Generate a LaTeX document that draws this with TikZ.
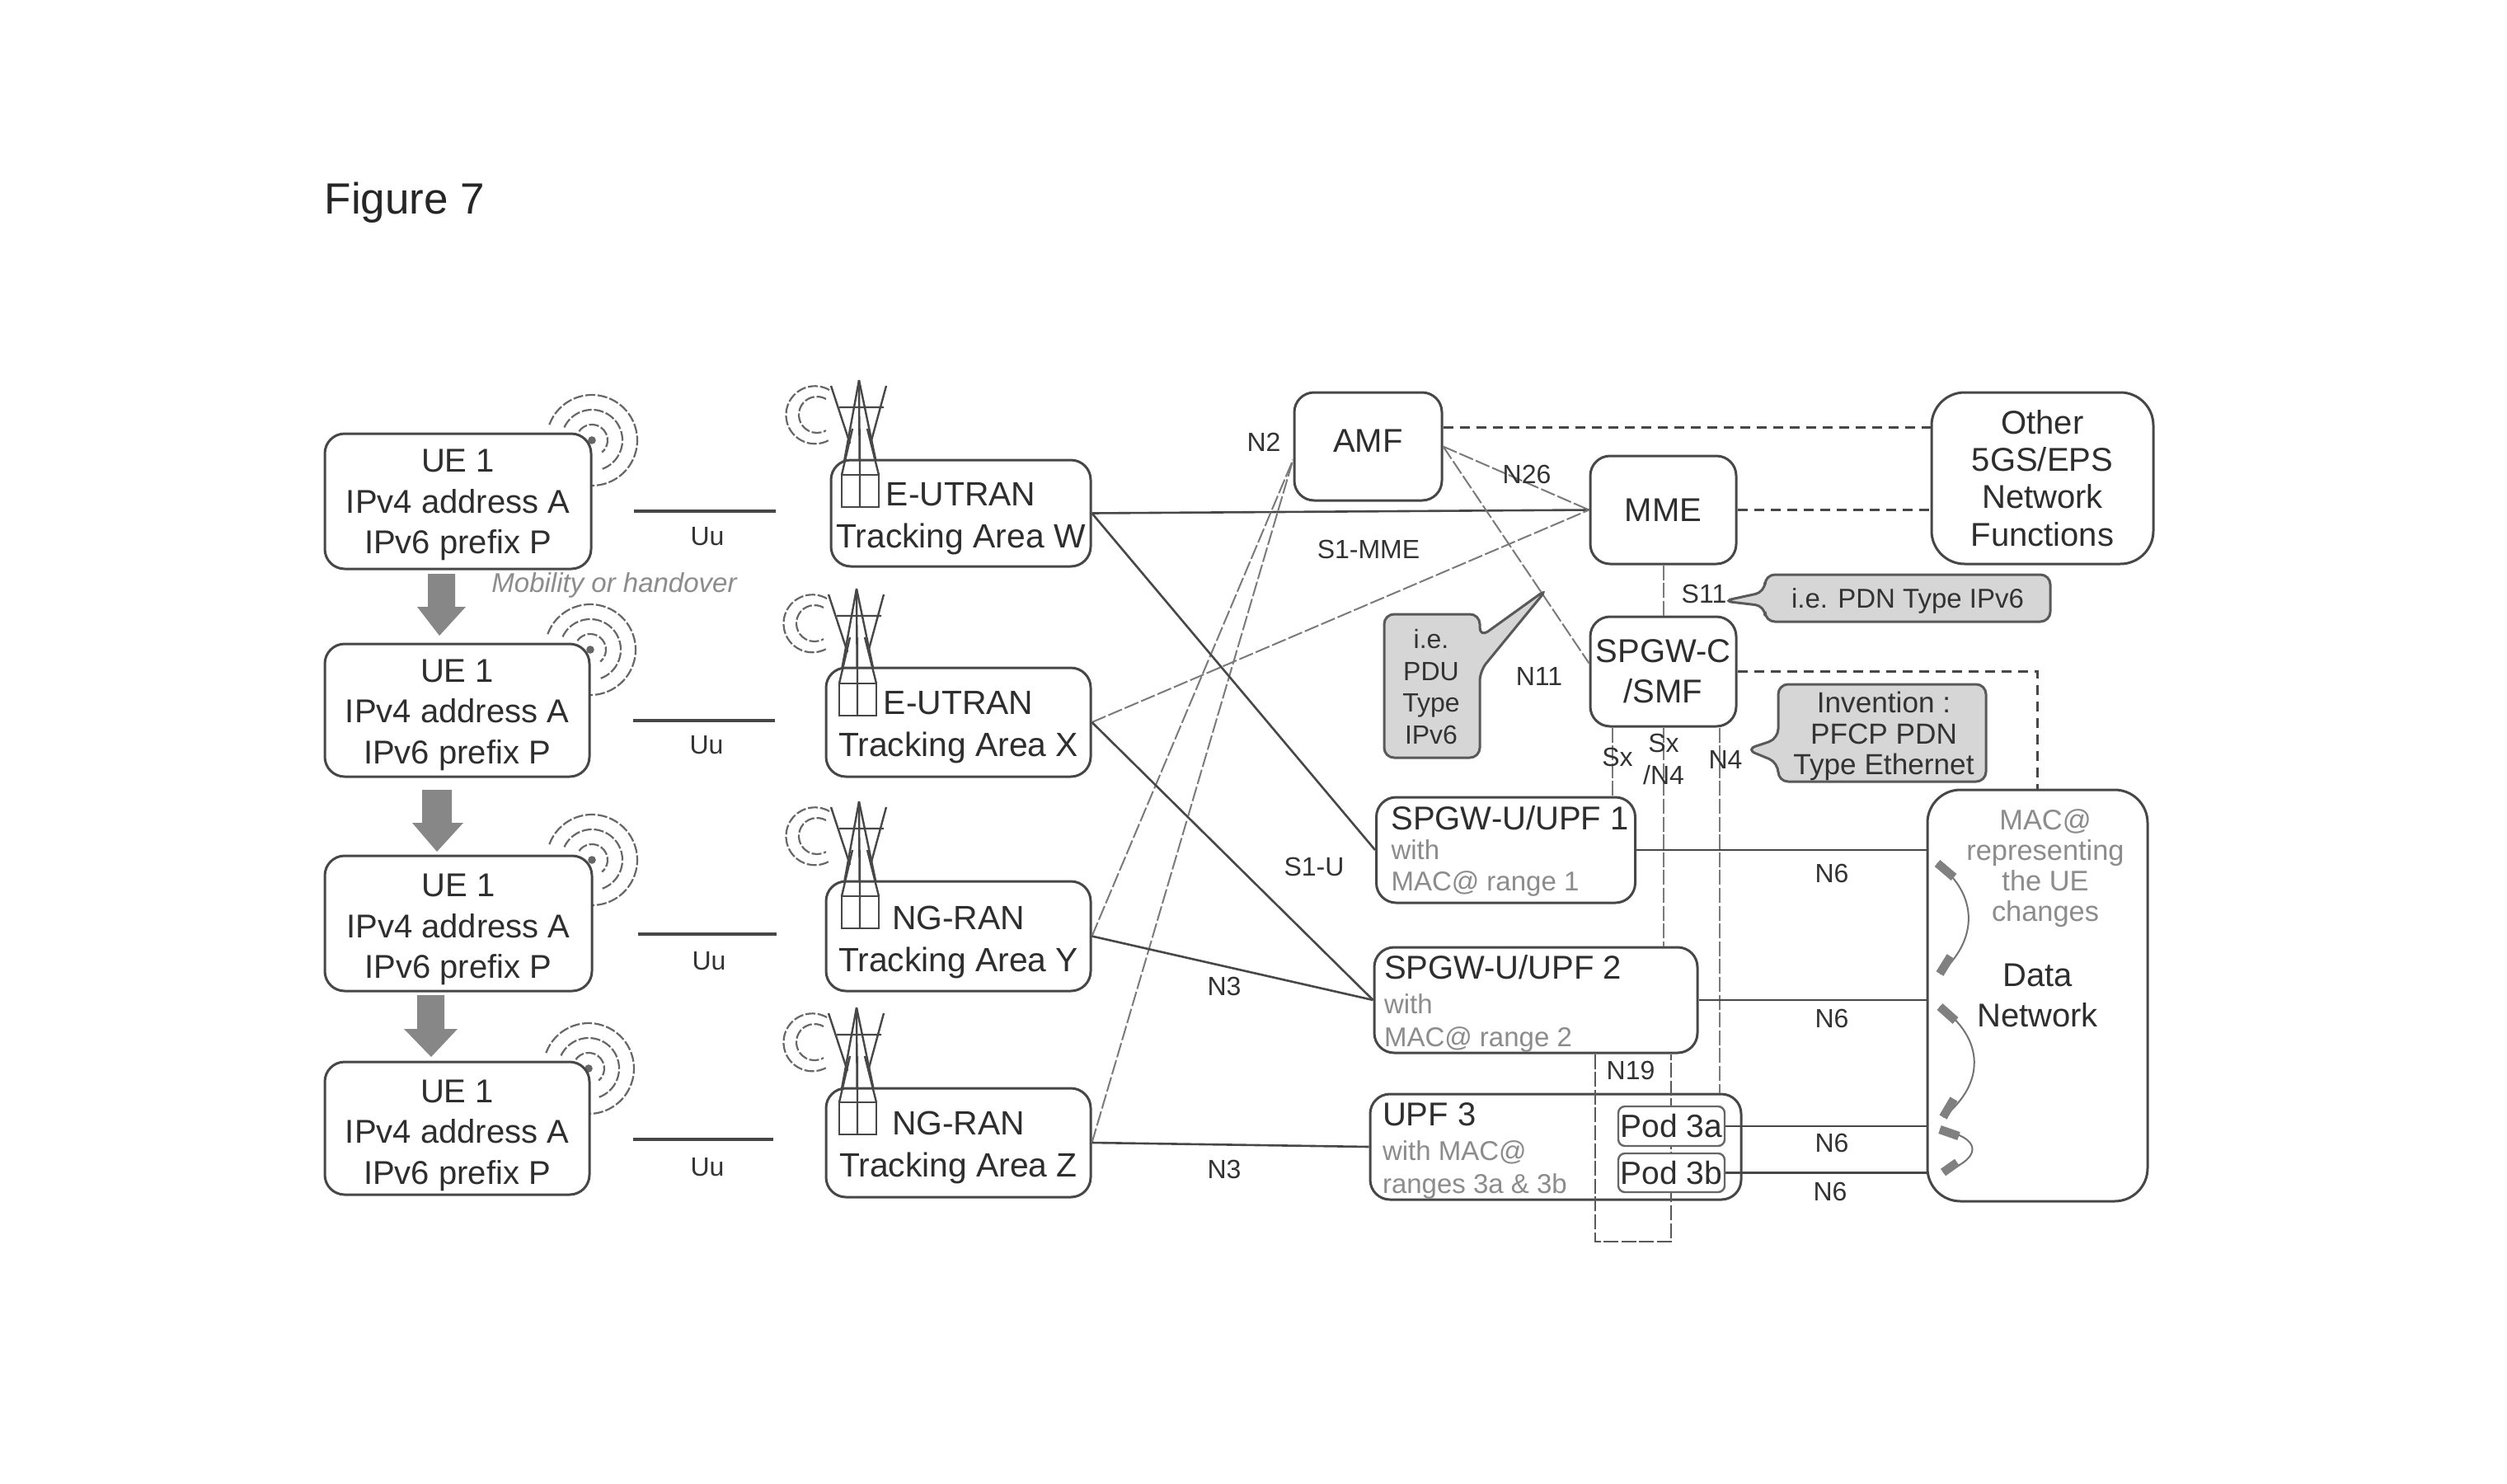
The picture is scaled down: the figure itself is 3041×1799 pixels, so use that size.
\documentclass[tikz,border=0pt]{standalone}
\usepackage{fontspec}
\setmainfont{Liberation Sans}
\newcommand\fpx[1]{\pgfmathsetmacro\fa{#1*0.25}\pgfmathsetmacro\fb{#1*0.25*1.22}\fontsize{\fa pt}{\fb pt}\selectfont}
\newcommand\boxn[7]{%
 \pgfmathsetmacro\cxx{(#3+#5)/2}\pgfmathsetmacro\cyy{(#4+#6)/2}%
 \pgfmathsetmacro\bw{(#5-#3)*0.25}\pgfmathsetmacro\bh{(#6-#4)*0.25}%
 \node[#1,minimum width=\bw pt,minimum height=\bh pt] (#2) at (\cxx,\cyy) {#7};}
\newcommand\rs[1]{\rule{0pt}{#1pt}}
\tikzset{
 ink/.style={black!72},
 boxs/.style={draw=black!72,line width=.75pt,fill=white,rounded corners=6pt,inner sep=0pt,text=black!82,align=center,font=\fpx{40}},
 bigbox/.style={boxs,rounded corners=10pt},
 otherbox/.style={bigbox,font=\fontsize{10}{11.3}\selectfont},
 ue/.style={boxs,font=\fontsize{10}{12.4}\selectfont},
 ran/.style={boxs,font=\fontsize{10.2}{12.8}\selectfont},
 upf/.style={boxs,align=left,font=\fpx{33}},
 podbox/.style={boxs,draw=black!60,line width=.6pt,rounded corners=2pt,font=\fpx{39}},
 lab/.style={inner sep=0pt,text=black!80,font=\fpx{32}},
 note/.style={inner sep=0pt,text=black!45,align=center},
 thick link/.style={draw=black!72,line width=.9pt},
 thin link/.style={draw=black!52,line width=.5pt,dash pattern=on 4.5pt off .9pt},
 dash link/.style={draw=black!72,line width=.8pt,dash pattern=on 3pt off 2pt},
 call/.style={draw=black!65,line width=.75pt,fill=black!16,rounded corners=3pt},
 wave/.style={draw=black!60,line width=.55pt,dash pattern=on 3pt off .7pt},
 block/.style={fill=black!47},
 turn/.style={draw=black!55,line width=.5pt},
 turnend/.style={draw=black!50,line width=2.6pt},
}
\newcommand\waves[2]{\begin{scope}[shift={(#1,#2)}]
 \draw[wave] (200:55) arc[start angle=200,end angle=450,radius=55];
 \draw[wave] (205:37) arc[start angle=205,end angle=430,radius=37];
 \draw[wave] (215:19) arc[start angle=215,end angle=410,radius=19];
 \fill[black!60] (0,0) circle (1.2pt);
\end{scope}}
\newcommand\tower[2]{\begin{scope}[shift={(#1,#2)}]
 \draw[wave] (1006,473) arc[start angle=300,end angle=60,radius=35];
 \draw[wave] (1002,484) arc[start angle=300,end angle=60,radius=22];
 \draw[ink,line width=.6pt] (1008,468) -- (1031,538) (1075,468) -- (1056,538) (1042,461) -- (1043,615)
   (1018,494) -- (1072,494);
 \draw[ink,line width=.6pt] (1042,461) -- (1021,576) (1042,461) -- (1066,576);
\end{scope}}
\begin{document}
\begin{tikzpicture}[x=.25pt,y=-.25pt]
\useasboundingbox (0,0) rectangle (3041,1799);
\fill[white] (0,0) rectangle (3041,1799);
\node[inner sep=0pt,text=black!85,font=\fpx{53}] (fig) at (491,246) {Figure 7};
% waves and towers behind the boxes
\waves{718}{534}\waves{716}{788}\waves{718}{1043}\waves{714}{1296}
\tower{0}{0}\tower{-3}{253}\tower{0}{511}\tower{-3}{761}
% UE boxes
\boxn{ue}{ue1}{394}{526}{717}{690}{\rs{9.2}UE 1\\IPv4 address A\\IPv6 prefix P}
\boxn{ue}{ue2}{394}{781}{715}{942}{\rs{9.7}UE 1\\IPv4 address A\\IPv6 prefix P}
\boxn{ue}{ue3}{394}{1038}{718}{1202}{\rs{10.7}UE 1\\IPv4 address A\\IPv6 prefix P}
\boxn{ue}{ue4}{394}{1288}{715}{1449}{\rs{11.2}UE 1\\IPv4 address A\\IPv6 prefix P}
% RAN boxes
\boxn{ran}{ranw}{1008}{558}{1323}{687}{\rs{10.3}E-UTRAN\\Tracking Area W}
\boxn{ran}{ranx}{1002}{810}{1323}{942}{\rs{10.3}E-UTRAN\\Tracking Area X}
\boxn{ran}{rany}{1002}{1069}{1323}{1202}{\rs{10.8}NG-RAN\\Tracking Area Y}
\boxn{ran}{ranz}{1002}{1320}{1323}{1452}{\rs{10.3}NG-RAN\\Tracking Area Z}
% towers' lower part over the boxes
\foreach \dx/\dy in {0/0,-3/253,0/511,-3/761}{
 \begin{scope}[shift={(\dx,\dy)}]
 \draw[ink,line width=.6pt] (1034,520) -- (1021,576) (1052,520) -- (1066,576) (1043,520) -- (1043,615);
 \draw[ink,line width=.6pt] (1021,576) rectangle (1066,615);
 \end{scope}}
% core boxes
\boxn{boxs}{amf}{1570}{476}{1749}{607}{\raisebox{3.5pt}{AMF}}
\boxn{boxs}{mme}{1929}{553}{2106}{684}{MME}
\boxn{otherbox}{other}{2343}{476}{2612}{684}{Other\\5GS/EPS\\Network\\Functions}
\boxn{boxs}{smf}{1929}{748}{2106}{881}{SPGW-C\\/SMF}
\boxn{upf}{upf1}{1670}{967}{1983}{1095}{\hspace*{4.5pt}\parbox{74pt}{\fontsize{8.25}{9.2}\selectfont\rs{8}\fpx{40}SPGW-U/UPF 1\\[-.5pt]\color{black!45}\fontsize{8.25}{9.6}\selectfont with\\MAC@ range 1}}
\boxn{upf}{upf2}{1667}{1149}{2059}{1277}{\parbox{92pt}{\rs{9.5}\fpx{40}SPGW-U/UPF 2\\[.5pt]\color{black!45}\fpx{33}with\\MAC@ range 2}}
\boxn{upf}{upf3}{1662}{1327}{2112}{1455}{\parbox{105pt}{\rs{9.5}\fpx{40}UPF 3\\[.5pt]\color{black!45}\fpx{33}with MAC@\\ranges 3a \& 3b}}
\boxn{bigbox}{dn}{2338}{958}{2605}{1457}{Data\\Network}
% N19 loop
\coordinate (n19a) at (1935,1506);
\coordinate (n19b) at (2027,1506);
\draw[thin link,draw=black!65,line width=.6pt] (n19a |- upf2.south) -- (n19a) -- (n19b) -- (n19b |- upf2.south);
\boxn{podbox}{pod3a}{1963}{1342}{2092}{1390}{Pod 3a}
\boxn{podbox}{pod3b}{1963}{1399}{2092}{1446}{Pod 3b}
% Uu links
\coordinate (uu1a) at (769,620); \coordinate (uu1b) at (941,620);
\coordinate (uu2a) at (768,874); \coordinate (uu2b) at (940,874);
\coordinate (uu3a) at (774,1133); \coordinate (uu3b) at (942,1133);
\coordinate (uu4a) at (768,1382); \coordinate (uu4b) at (938,1382);
\draw[thick link] (uu1a) -- (uu1b);
\draw[thick link] (uu2a) -- (uu2b);
\draw[thick link] (uu3a) -- (uu3b);
\draw[thick link] (uu4a) -- (uu4b);
% S1 / N2 / N3 links
\draw[thick link,line width=.65pt] (ranw.east) -- (mme.west);
\draw[thin link] (ranx.east) -- (mme.west);
\draw[thin link] (rany.east) -- ([yshift=-4pt]amf.west);
\draw[thin link] (ranz.east) -- ([yshift=-4pt]amf.west);
\draw[thick link,line width=.65pt] (ranw.east) -- (upf1.west);
\draw[thick link,line width=.65pt] (ranx.east) -- (upf2.west);
\draw[thick link,line width=.65pt] (rany.east) -- (upf2.west);
\draw[thick link,line width=.65pt] (ranz.east) -- (upf3.west);
% control plane
\draw[thin link] (amf.east) -- (mme.west);
\draw[thin link] (amf.east) -- ([yshift=2.5pt]smf.west);
\draw[dash link] ([yshift=5.75pt]amf.east) -- ([yshift=5.75pt]amf.east -| other.west);
\draw[dash link] (mme.east) -- (mme.east -| other.west);
\draw[dash link] (smf.east) -| (dn.north);
\draw[thin link] (mme.south) -- (smf.north);
\draw[thin link] ([xshift=-15.5pt]smf.south) -- ([xshift=-15.5pt]smf.south |- upf1.north);
\draw[thin link] (smf.south) -- (smf.south |- upf2.north);
\draw[thin link] ([xshift=17pt]smf.south) -- ([xshift=17pt]smf.south |- upf3.north);
% N6
\draw[thick link,line width=.7pt] (upf1.east) -- (upf1.east -| dn.west);
\draw[thick link,line width=.7pt] (upf2.east) -- (upf2.east -| dn.west);
\draw[thick link,line width=.7pt] (pod3a.east) -- (pod3a.east -| dn.west);
\draw[thick link,line width=.7pt] (pod3b.east) -- (pod3b.east -| dn.west);
% block arrows
\fill[block] (519,696) -- (552,696) -- (552,736) -- (565,736) -- (533,771) -- (506,736) -- (519,736) -- cycle;
\fill[block] (512,958) -- (548,958) -- (548,998) -- (562,998) -- (530,1033) -- (500,998) -- (512,998) -- cycle;
\fill[block] (506,1207) -- (539,1207) -- (539,1248) -- (555,1248) -- (523,1282) -- (490,1248) -- (506,1248) -- cycle;
% callouts
\draw[call] (1679,745) -- (1795,745) -- (1795,773) -- (1877,714) -- (1795,814) -- (1795,919) -- (1679,919) -- cycle;
\draw[call] (2141,697) -- (2487,697) -- (2487,754) -- (2141,754) -- (2141,735) -- (2090,729) -- (2141,718) -- cycle;
\draw[call] (2157,830) -- (2409,830) -- (2409,948) -- (2157,948) -- (2157,925) -- (2118,909) -- (2157,896) -- cycle;
\node[lab] (pdu) at (1736,833) [align=center,text=black!80,font=\fontsize{8}{9.6}\selectfont] {i.e.\\PDU\\Type\\IPv6};
\node[lab,font=\fpx{33}] (pdn) at (2314,729) {i.e. PDN Type IPv6};
\node[lab,align=center,font=\fontsize{8.8}{9.4}\selectfont] (inv) at (2285,893) {Invention :\\PFCP PDN\\Type Ethernet};
% curved arrows in the data network
\draw[turn] (2350,1047) .. controls (2400,1085) and (2400,1140) .. (2353,1181);
\draw[turn] (2353,1221) .. controls (2408,1260) and (2408,1315) .. (2357,1355);
\draw[turn] (2353,1370) .. controls (2405,1380) and (2405,1405) .. (2357,1422);
\draw[turnend] (2350,1047) -- (2370,1064);
\draw[turnend] (2353,1181) -- (2366,1160);
\draw[turnend] (2353,1221) -- (2372,1238);
\draw[turnend] (2357,1355) -- (2370,1333);
\draw[turnend] (2353,1370) -- (2376,1378);
\draw[turnend] (2357,1422) -- (2374,1410);
% notes
\node[note,font=\fontsize{8.6}{9.3}\selectfont] (macnote) at (2481,1053) {MAC@\\representing\\the UE\\changes};
\node[note,font=\itshape\fpx{33}] (mob) at (745,710) {Mobility or handover};
% labels
\node[lab] (luu1) at (858,651) {Uu};
\node[lab] (luu2) at (857,904) {Uu};
\node[lab] (luu3) at (860,1166) {Uu};
\node[lab] (luu4) at (858,1416) {Uu};
\node[lab] (ln2) at (1533,536) {N2};
\node[lab] (ln26) at (1852,575) {N26};
\node[lab] (ls1m) at (1660,666) {S1-MME};
\node[lab] (ln11) at (1867,820) {N11};
\node[lab] (ls11) at (2067,720) {S11};
\node[lab] (lsx) at (1962,918) {Sx};
\node[lab,align=center,font=\fontsize{8}{9.6}\selectfont] (lsxn) at (2018,921) {Sx\\/N4};
\node[lab] (ln4) at (2093,921) {N4};
\node[lab] (ls1u) at (1594,1051) {S1-U};
\node[lab] (ln3a) at (1485,1196) {N3};
\node[lab] (ln3b) at (1485,1418) {N3};
\node[lab] (ln19) at (1978,1298) {N19};
\node[lab] (ln6a) at (2222,1059) {N6};
\node[lab] (ln6b) at (2222,1235) {N6};
\node[lab] (ln6c) at (2222,1386) {N6};
\node[lab] (ln6d) at (2220,1445) {N6};
\end{tikzpicture}
\end{document}
